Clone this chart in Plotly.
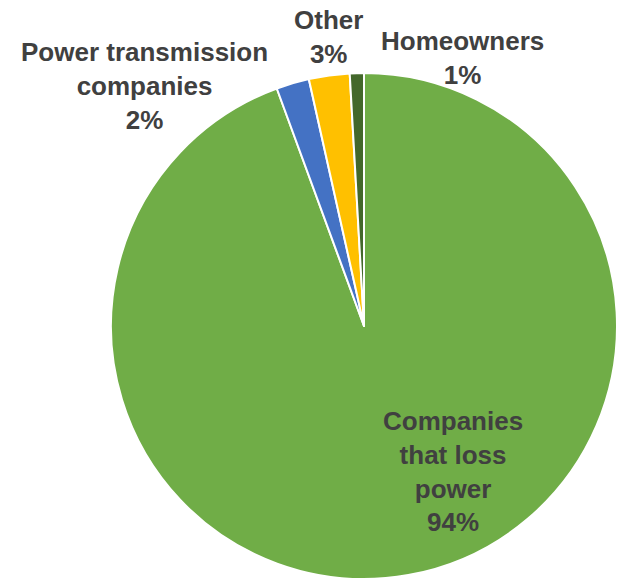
import plotly.graph_objects as go

labels = ["Companies<br>that loss<br>power", "Power transmission<br>companies", "Other", "Homeowners"]
values = [94.4, 2.1, 2.6, 0.9]
colors = ["#70AD47", "#4472C4", "#FFC000", "#43682B"]

W, H = 617, 580
total = sum(values)
pcts = [round(v / total * 100) for v in values]

fig = go.Figure(go.Pie(
    labels=labels,
    values=values,
    sort=False,
    direction="clockwise",
    rotation=0,
    textinfo="none",
    hoverinfo="label+percent",
    marker=dict(colors=colors, line=dict(color="white", width=2)),
    domain=dict(x=[(364 - 253) / W, 1.0], y=[1 / H, 507 / H]),
    showlegend=False,
))

# label block centers in pixels
label_pos = [(453, 471), (144.5, 86), (328, 37), (462, 58)]
for lab, p, (px, py) in zip(labels, pcts, label_pos):
    fig.add_annotation(
        x=px / W, y=1 - py / H, xref="paper", yref="paper",
        text="<b>%s<br>%d%%</b>" % (lab, p),
        showarrow=False, xanchor="center", yanchor="middle",
        font=dict(family="Liberation Sans, Arial", size=26, color="#404040"),
    )

fig.update_layout(
    width=W, height=H,
    margin=dict(l=0, r=0, t=0, b=0),
    paper_bgcolor="white", plot_bgcolor="white",
)
fig.write_html("out.html")
